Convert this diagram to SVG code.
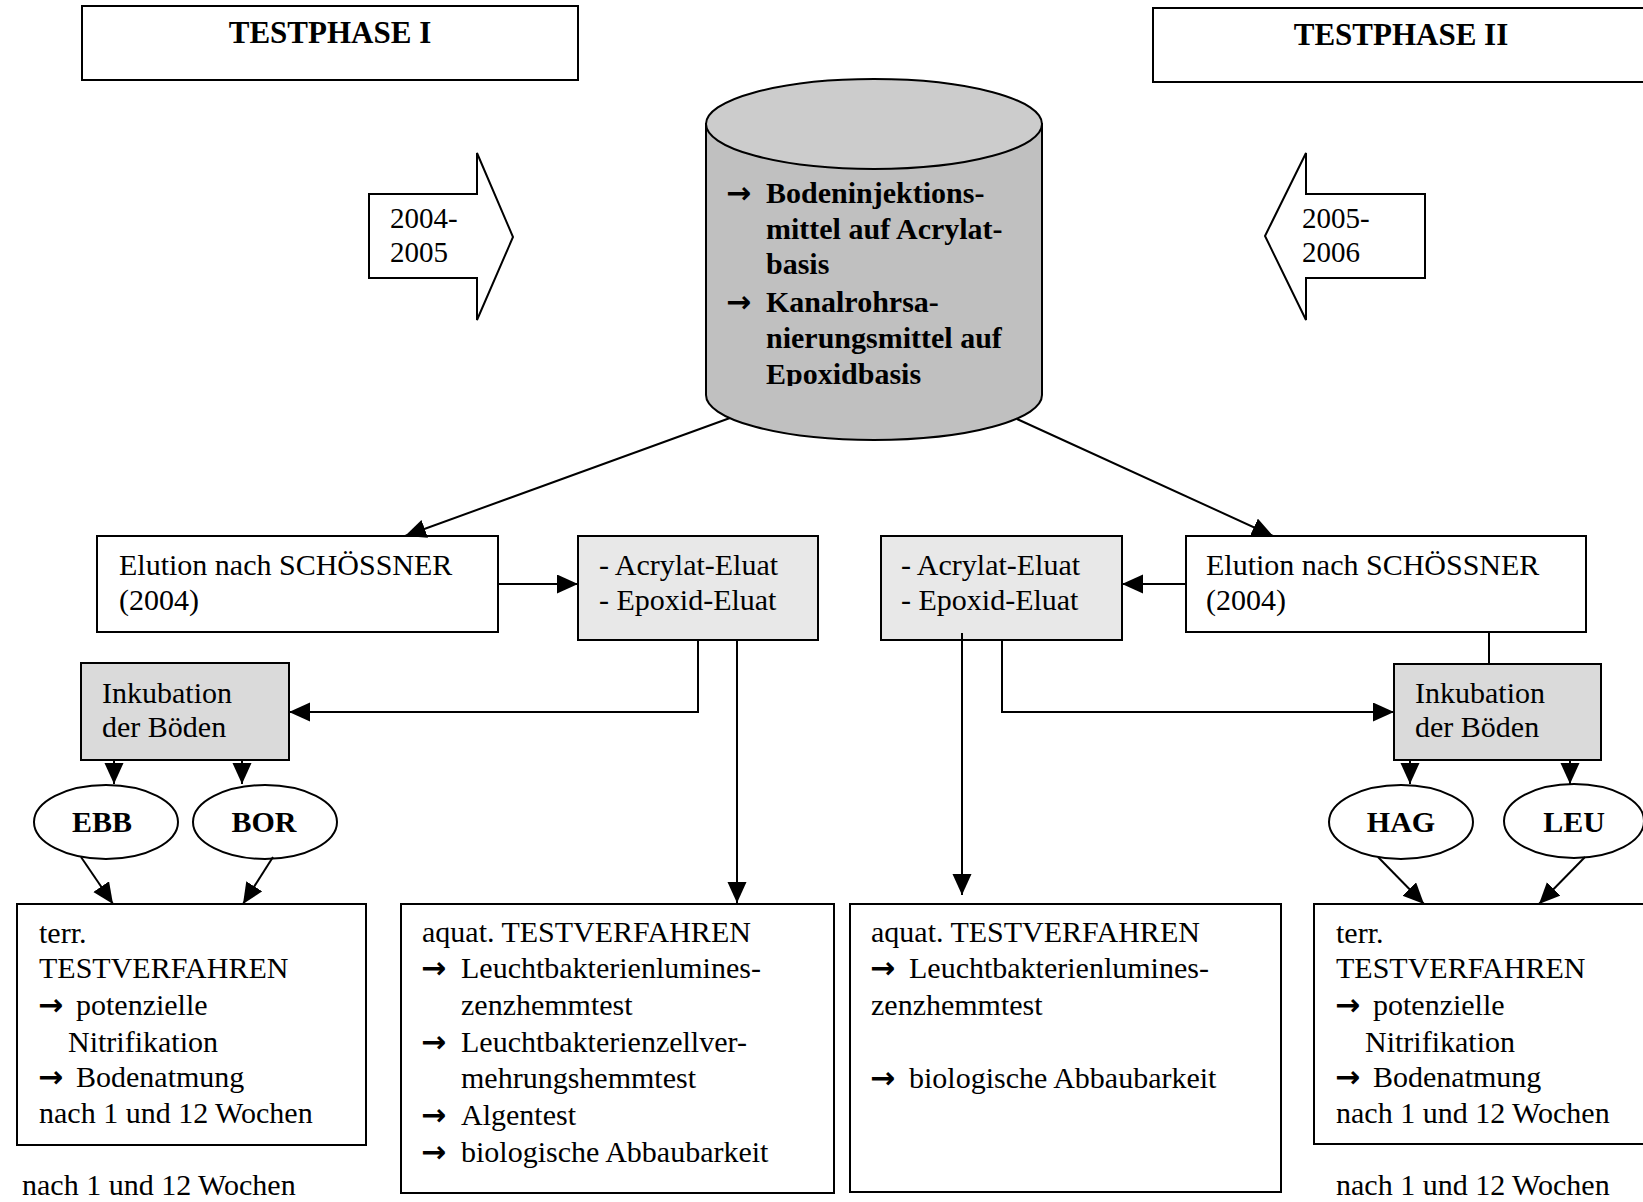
<svg xmlns="http://www.w3.org/2000/svg" width="1643" height="1202" viewBox="0 0 1643 1202">
<style>
.t{font-family:"Liberation Serif","Times New Roman",serif;font-size:30px;fill:#000}
.b{font-weight:bold}
.h{font-size:31px}
.y{font-size:29px}
.ar{font-family:"DejaVu Sans",sans-serif;font-size:30px;font-weight:bold}
.box{fill:#fff;stroke:#000;stroke-width:2}
.g1{fill:#e8e8e8;stroke:#000;stroke-width:2}
.g2{fill:#dadada;stroke:#000;stroke-width:2}
.c{fill:none;stroke:#000;stroke-width:2}
.ca{fill:none;stroke:#000;stroke-width:2;marker-end:url(#ah)}
</style>
<defs>
<marker id="ah" markerUnits="userSpaceOnUse" markerWidth="22" markerHeight="20" refX="21" refY="9.5" orient="auto">
<path d="M0,0 L21,9.5 L0,19 z" fill="#000"/>
</marker>
<clipPath id="cylclip"><rect x="700" y="150" width="350" height="236"/></clipPath>
</defs>

<g id="testphase1">
<rect class="box" x="82" y="6" width="496" height="74"/>
<text class="t b h" x="330" y="43" text-anchor="middle">TESTPHASE I</text>
</g>
<g id="testphase2">
<rect class="box" x="1153" y="8" width="500" height="74"/>
<text class="t b h" x="1401" y="45" text-anchor="middle">TESTPHASE II</text>
</g>

<g id="year1">
<path class="box" d="M369,194 H477 V153 L513,237 L477,320 V278 H369 Z"/>
<text class="t y" x="390" y="228">2004-</text>
<text class="t y" x="390" y="262">2005</text>
</g>
<g id="year2">
<path class="box" d="M1425,194 H1306 V153 L1265,236 L1306,320 V278 H1425 Z"/>
<text class="t y" x="1302" y="228">2005-</text>
<text class="t y" x="1302" y="262">2006</text>
</g>

<g id="cylinder">
<path d="M706,124 V395 A168,45 0 0 0 1042,395 V124 Z" fill="#c0c0c0" stroke="#000" stroke-width="2"/>
<ellipse cx="874" cy="124" rx="168" ry="45" fill="#cccccc" stroke="#000" stroke-width="2"/>
<g clip-path="url(#cylclip)">
<text class="ar" x="726" y="203">→</text>
<text class="t b" x="766" y="203">Bodeninjektions-</text>
<text class="t b" x="766" y="239">mittel auf Acrylat-</text>
<text class="t b" x="766" y="274">basis</text>
<text class="ar" x="726" y="312">→</text>
<text class="t b" x="766" y="312">Kanalrohrsa-</text>
<text class="t b" x="766" y="348">nierungsmittel auf</text>
<text class="t b" x="766" y="384">Epoxidbasis</text>
</g>
</g>

<g id="elution1">
<rect class="box" x="97" y="536" width="401" height="96"/>
<text class="t" x="119" y="575">Elution nach SCHÖSSNER</text>
<text class="t" x="119" y="610">(2004)</text>
</g>
<g id="eluat1">
<rect class="g1" x="578" y="536" width="240" height="104"/>
<text class="t" x="599" y="575">- Acrylat-Eluat</text>
<text class="t" x="599" y="610">- Epoxid-Eluat</text>
</g>
<g id="eluat2">
<rect class="g1" x="881" y="536" width="241" height="104"/>
<text class="t" x="901" y="575">- Acrylat-Eluat</text>
<text class="t" x="901" y="610">- Epoxid-Eluat</text>
</g>
<g id="elution2">
<rect class="box" x="1186" y="536" width="400" height="96"/>
<text class="t" x="1206" y="575">Elution nach SCHÖSSNER</text>
<text class="t" x="1206" y="610">(2004)</text>
</g>

<g id="inkubation1">
<rect class="g2" x="81" y="663" width="208" height="97"/>
<text class="t" x="102" y="703">Inkubation</text>
<text class="t" x="102" y="737">der Böden</text>
</g>
<g id="inkubation2">
<rect class="g2" x="1394" y="664" width="207" height="96"/>
<text class="t" x="1415" y="703">Inkubation</text>
<text class="t" x="1415" y="737">der Böden</text>
</g>

<g id="ebb">
<ellipse class="box" cx="106" cy="822" rx="72" ry="37"/>
<text class="t b" x="102" y="832" text-anchor="middle">EBB</text>
</g>
<g id="bor">
<ellipse class="box" cx="265" cy="822" rx="72" ry="37"/>
<text class="t b" x="264" y="832" text-anchor="middle">BOR</text>
</g>
<g id="hag">
<ellipse class="box" cx="1401" cy="822" rx="72" ry="37"/>
<text class="t b" x="1401" y="832" text-anchor="middle">HAG</text>
</g>
<g id="leu">
<ellipse class="box" cx="1574" cy="821" rx="70" ry="37"/>
<text class="t b" x="1574" y="832" text-anchor="middle">LEU</text>
</g>

<g id="terr1">
<rect class="box" x="17" y="904" width="349" height="241"/>
<text class="t" x="39" y="943">terr.</text>
<text class="t" x="39" y="978">TESTVERFAHREN</text>
<text class="ar" x="38" y="1015">→</text>
<text class="t" x="76" y="1015">potenzielle</text>
<text class="t" x="68" y="1052">Nitrifikation</text>
<text class="ar" x="38" y="1087">→</text>
<text class="t" x="76" y="1087">Bodenatmung</text>
<text class="t" x="39" y="1123">nach 1 und 12 Wochen</text>
</g>
<g id="note1">
<text class="t" x="22" y="1195">nach 1 und 12 Wochen</text>
</g>

<g id="aquat1">
<rect class="box" x="401" y="904" width="433" height="289"/>
<text class="t" x="422" y="942">aquat. TESTVERFAHREN</text>
<text class="ar" x="421" y="978">→</text>
<text class="t" x="461" y="978">Leuchtbakterienlumines-</text>
<text class="t" x="461" y="1015">zenzhemmtest</text>
<text class="ar" x="421" y="1052">→</text>
<text class="t" x="461" y="1052">Leuchtbakterienzellver-</text>
<text class="t" x="461" y="1088">mehrungshemmtest</text>
<text class="ar" x="421" y="1125">→</text>
<text class="t" x="461" y="1125">Algentest</text>
<text class="ar" x="421" y="1162">→</text>
<text class="t" x="461" y="1162">biologische Abbaubarkeit</text>
</g>

<g id="aquat2">
<rect class="box" x="850" y="904" width="431" height="288"/>
<text class="t" x="871" y="942">aquat. TESTVERFAHREN</text>
<text class="ar" x="870" y="978">→</text>
<text class="t" x="909" y="978">Leuchtbakterienlumines-</text>
<text class="t" x="871" y="1015">zenzhemmtest</text>
<text class="ar" x="870" y="1088">→</text>
<text class="t" x="909" y="1088">biologische Abbaubarkeit</text>
</g>

<g id="terr2">
<rect class="box" x="1314" y="904" width="340" height="240"/>
<text class="t" x="1336" y="943">terr.</text>
<text class="t" x="1336" y="978">TESTVERFAHREN</text>
<text class="ar" x="1335" y="1015">→</text>
<text class="t" x="1373" y="1015">potenzielle</text>
<text class="t" x="1365" y="1052">Nitrifikation</text>
<text class="ar" x="1335" y="1087">→</text>
<text class="t" x="1373" y="1087">Bodenatmung</text>
<text class="t" x="1336" y="1123">nach 1 und 12 Wochen</text>
</g>
<g id="note2">
<text class="t" x="1336" y="1195">nach 1 und 12 Wochen</text>
</g>

<g id="connectors">
<path class="ca" d="M730,418 L405,536"/>
<path class="ca" d="M1017,419 L1273,536"/>
<path class="ca" d="M498,584 L578,584"/>
<path class="ca" d="M1186,584 L1122,584"/>
<path class="ca" d="M698,640 V712 H289"/>
<path class="ca" d="M737,640 V903"/>
<path class="ca" d="M1002,640 V712 H1394"/>
<path class="ca" d="M962,633 V895"/>
<path class="c" d="M1489,632 V664"/>
<path class="ca" d="M114,760 V784"/>
<path class="ca" d="M242,760 V784"/>
<path class="ca" d="M1410,760 V784"/>
<path class="ca" d="M1570,760 V784"/>
<path class="ca" d="M81,857 L113,904"/>
<path class="ca" d="M273,857 L243,904"/>
<path class="ca" d="M1378,857 L1424,904"/>
<path class="ca" d="M1585,857 L1539,904"/>
</g>
</svg>
